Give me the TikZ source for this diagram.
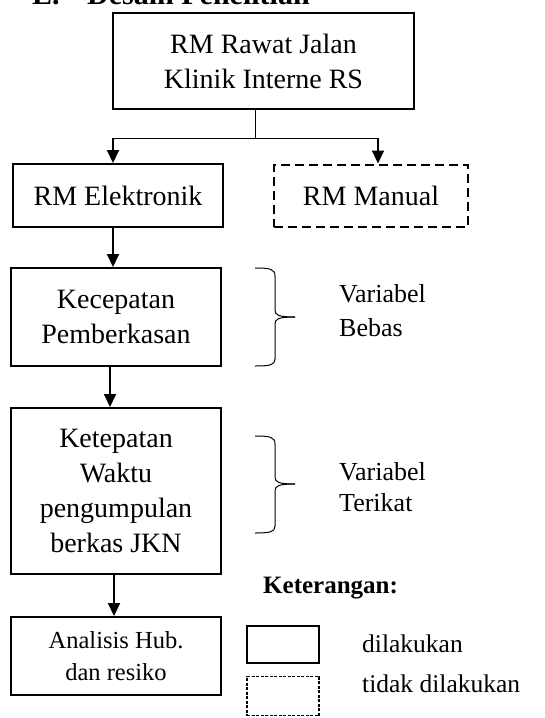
\documentclass[tikz,border=0pt]{standalone}
\usepackage{fontspec}
\setmainfont{Liberation Serif}
\usetikzlibrary{arrows.meta}
\begin{document}
\begin{tikzpicture}[x=1pt,y=-1pt,
  box/.style={draw,line width=2pt,align=center,inner sep=0pt,font=\fontsize{28}{35}\selectfont},
  dbox/.style={box,dash pattern=on 9pt off 5pt},
  thinln/.style={line width=1pt},
  arr/.style={line width=2pt,-{Triangle[width=12pt,length=13pt]}},
  lbl/.style={anchor=base west,inner sep=0pt,font=\fontsize{26}{30}\selectfont},
  brc/.style={line width=1pt},
  head/.style={anchor=base west,inner sep=0pt,font=\fontsize{30}{36}\selectfont\bfseries}]
\useasboundingbox (0,0) rectangle (544,718);
% heading (cropped at top)
\node[head] (hE) at (32,4.5) {E.};
\node[head] (hT) at (87,4.5) {Desain Penelitian};
% boxes
\node[box,minimum width=301pt,minimum height=96pt] (top) at (263.5,61) {RM Rawat Jalan\\Klinik Interne RS};
\node[box,minimum width=210pt,minimum height=63pt] (elek) at (118,195.5) {RM Elektronik};
\node[dbox,minimum width=194pt,minimum height=62pt] (man) at (371,195.5) {RM Manual};
\node[box,minimum width=210pt,minimum height=98pt] (kec) at (116,317) {Kecepatan\\Pemberkasan};
\node[box,minimum width=210pt,minimum height=166pt] (ket) at (116,491) {Ketepatan\\Waktu\\pengumpulan\\berkas JKN};
\node[box,minimum width=210pt,minimum height=78pt,font=\fontsize{24.5}{32}\selectfont] (ana) at (116,656) {Analisis Hub.\\dan resiko};
% connectors
\coordinate (j) at (255,138);
\coordinate (jl) at (113,138);
\coordinate (jr) at (378,138);
\draw[thinln] (top.south -| j) -- (j);
\draw[thinln] (jl) -- (jr);
\draw[arr] (jl) -- (jl |- elek.north);
\draw[arr] (jr) -- (jr |- man.north);
\draw[arr] (elek.south -| jl) -- (kec.north -| jl);
\draw[arr] ([xshift=-6pt]kec.south) -- ([xshift=-6pt]ket.north);
\draw[arr] ([xshift=-2pt]ket.south) -- ([xshift=-2pt]ana.north);
% braces
\draw[brc] (255,268) .. controls (270,268) and (275,269) .. (275,276) -- (275,310)
  .. controls (275,315) and (278,317) .. (295,317);
\draw[brc] (295,317) .. controls (278,317) and (275,319) .. (275,324) -- (275,359)
  .. controls (275,365) and (270,366) .. (255,366);
\draw[brc] (255,436) .. controls (270,436) and (275,437) .. (275,444) -- (275,477)
  .. controls (275,482) and (278,484) .. (295,484);
\draw[brc] (295,484) .. controls (278,484) and (275,486) .. (275,491) -- (275,526)
  .. controls (275,532) and (270,533) .. (255,533);
% side labels
\node[lbl] (v1) at (339,302) {Variabel};
\node[lbl] (b1) at (339,336) {Bebas};
\node[lbl] (v2) at (339,480) {Variabel};
\node[lbl] (t2) at (339,511) {Terikat};
% legend
\node[lbl,font=\fontsize{25}{30}\selectfont\bfseries] (ketr) at (263,593) {Keterangan:};
\node[draw,line width=2pt,minimum width=72pt,minimum height=37pt,inner sep=0pt] (lg1) at (283,644.5) {};
\node[draw,line width=1.5pt,dash pattern=on 3pt off 1.5pt,minimum width=72pt,minimum height=39pt,inner sep=0pt] (lg2) at (283,696) {};
\node[lbl,font=\fontsize{25.5}{30}\selectfont] (l1) at (362,652) {dilakukan};
\node[lbl,font=\fontsize{25.5}{30}\selectfont] (l2) at (362,692) {tidak dilakukan};
\end{tikzpicture}
\end{document}
